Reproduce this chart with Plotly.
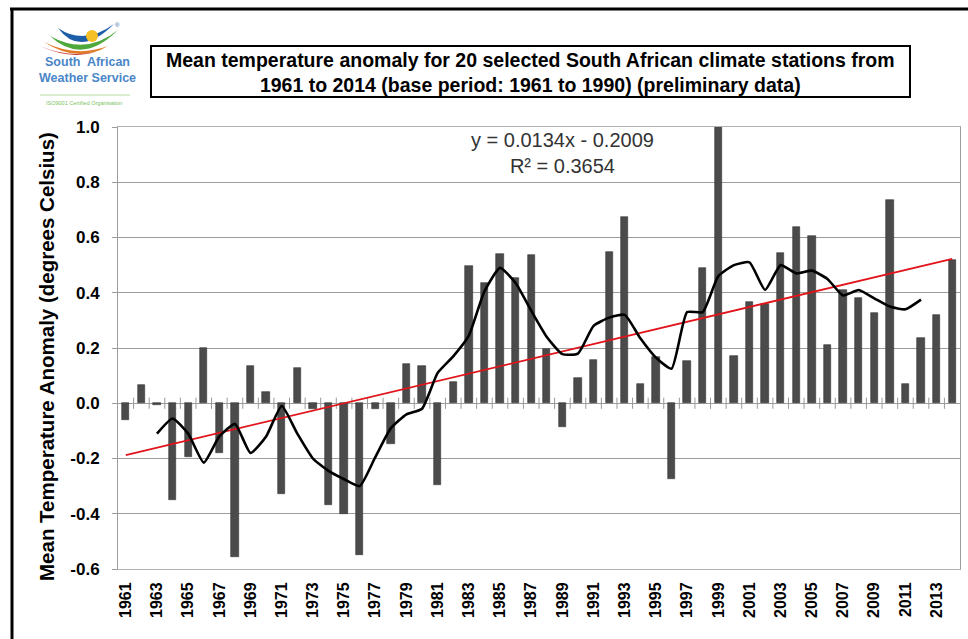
import plotly.graph_objects as go

# ---- data -------------------------------------------------------------
years = list(range(1961, 2015))
anomaly = [
    -0.06, 0.065, -0.005, -0.35, -0.195, 0.20, -0.18, -0.555, 0.136, 0.04,
    -0.33, 0.128, -0.02, -0.37, -0.40, -0.55, -0.02, -0.146, 0.142, 0.136,
    -0.296, 0.078, 0.497, 0.434, 0.539, 0.455, 0.535, 0.196, -0.086, 0.092,
    0.158, 0.548, 0.675, 0.068, 0.168, -0.275, 0.154, 0.491, 1.09, 0.172,
    0.367, 0.358, 0.545, 0.637, 0.605, 0.212, 0.409, 0.381, 0.325, 0.737,
    0.07, 0.235, 0.32, 0.52,
]
# five-year running mean (centred), 1963-2012
mean_years = list(range(1963, 2013))
running_mean = [
    -0.11, -0.055, -0.11, -0.215, -0.12, -0.075, -0.18, -0.12, -0.01, -0.11,
    -0.20, -0.245, -0.275, -0.30, -0.195, -0.09, -0.04, -0.02, 0.11, 0.17,
    0.245, 0.405, 0.49, 0.435, 0.335, 0.24, 0.178, 0.18, 0.28, 0.31,
    0.32, 0.235, 0.165, 0.125, 0.33, 0.33, 0.46, 0.50, 0.51, 0.41,
    0.50, 0.47, 0.48, 0.45, 0.39, 0.41, 0.38, 0.35, 0.34, 0.375,
]
# linear trend y = a*x + b, x = 1 for 1961
trend_slope = 0.0134
trend_intercept = -0.2009
trend_label = "y = 0.0134x - 0.2009<br>R² = 0.3654"

y_ticks = [1.0, 0.8, 0.6, 0.4, 0.2, 0.0, -0.2, -0.4, -0.6]
x_ticks = list(range(1961, 2014, 2))

title_lines = [
    "Mean temperature anomaly for 20 selected South African climate stations from",
    "1961 to 2014 (base period: 1961 to 1990) (preliminary data)",
]
y_title = "Mean Temperature Anomaly (degrees Celsius)"

# ---- geometry ---------------------------------------------------------
W, H = 968, 639
L, R, T, B = 118, 960, 127, 569


def px(x):
    return (x - L) / (R - L)


def py(y):
    return (B - y) / (B - T)


FONT = "Liberation Sans, Arial, sans-serif"

fig = go.Figure()

fig.add_trace(go.Bar(
    x=years, y=anomaly, width=0.47,
    marker=dict(color="#4b4b4b", line=dict(color="#333333", width=0.6)),
    showlegend=False, hoverinfo="x+y",
))

# small ticks along the zero line between years
bounds = [y + 0.5 for y in years[:-1]]
fig.add_trace(go.Scatter(
    x=bounds, y=[0] * len(bounds), mode="markers",
    marker=dict(symbol="line-ns", size=8, line=dict(color="#9a9a9a", width=1)),
    showlegend=False, hoverinfo="skip",
))

trend_x = [years[0], years[-1]]
trend_y = [trend_slope * (yr - years[0] + 1) + trend_intercept for yr in trend_x]
fig.add_trace(go.Scatter(
    x=trend_x, y=trend_y, mode="lines",
    line=dict(color="#e0141a", width=1.8), showlegend=False,
))

fig.add_trace(go.Scatter(
    x=mean_years, y=running_mean, mode="lines",
    line=dict(color="#000000", width=2.6, shape="spline", smoothing=0.5),
    showlegend=False,
))

fig.update_xaxes(
    range=[1960.5, 2014.5], tickmode="array", tickvals=x_ticks,
    ticktext=[f"<b>{v}</b>" for v in x_ticks], tickangle=-90,
    tickfont=dict(family=FONT, size=16, color="#000000"),
    ticklabelstandoff=6,
    showgrid=False, showline=True, linecolor="#b0b0b0", mirror=True,
    ticks="", zeroline=False,
)
fig.update_yaxes(
    range=[-0.6, 1.0], tickmode="array", tickvals=y_ticks,
    ticktext=[f"<b>{v:.1f}</b>" for v in y_ticks],
    tickfont=dict(family=FONT, size=17, color="#000000"),
    ticklabelstandoff=9,
    showgrid=True, gridcolor="#9c9c9c", gridwidth=1,
    zeroline=True, zerolinecolor="#9c9c9c", zerolinewidth=1,
    showline=True, linecolor="#9c9c9c", mirror=True,
    ticks="outside", ticklen=5, tickcolor="#9c9c9c",
)

shapes = []
annotations = []

# axis title
annotations.append(dict(
    xref="paper", yref="paper", x=px(46), y=py(357), showarrow=False,
    text=f"<b>{y_title}</b>", textangle=-90,
    font=dict(family=FONT, size=20.5, color="#000000"),
    xanchor="center", yanchor="middle",
))

# outer frame
shapes.append(dict(type="line", xref="paper", yref="paper",
                   x0=px(10), x1=px(968), y0=py(9), y1=py(9),
                   line=dict(color="#000000", width=3)))
shapes.append(dict(type="line", xref="paper", yref="paper",
                   x0=px(12), x1=px(12), y0=py(9), y1=py(639),
                   line=dict(color="#000000", width=3)))

# title box
shapes.append(dict(type="rect", xref="paper", yref="paper",
                   x0=px(151), x1=px(910), y0=py(46), y1=py(97),
                   line=dict(color="#000000", width=2), fillcolor="#ffffff"))
annotations.append(dict(
    xref="paper", yref="paper", x=px(530), y=py(72), showarrow=False,
    text=f"<b>{title_lines[0]}</b><br><b>{title_lines[1]}</b>",
    font=dict(family=FONT, size=19.5, color="#000000"), align="center",
    xanchor="center", yanchor="middle",
))

# trend equation
annotations.append(dict(
    x=1989.0, y=0.905, xref="x", yref="y", showarrow=False,
    text=trend_label, font=dict(family=FONT, size=20, color="#333333"),
    align="center", xanchor="center", yanchor="middle",
))

# logo mark
swooshes = [
    ("M 58 28 Q 80 58 114 24 Q 84 46 58 28 Z", "#1d5ea8"),
    ("M 50 36 Q 82 66 118 30 Q 86 56 50 36 Z", "#4ea83c"),
    ("M 44 42 Q 78 64 108 46 Q 76 58 44 42 Z", "#e07b28"),
    ("M 40 46 Q 70 60 96 52 Q 68 58 40 46 Z", "#c3322a"),
]


def path_to_paper(p):
    toks = p.split()
    out = []
    i = 0
    while i < len(toks):
        t = toks[i]
        if t.isalpha():
            out.append(t)
            i += 1
        else:
            xv = float(toks[i])
            yv = float(toks[i + 1])
            out.append(f"{px(xv):.5f},{py(yv):.5f}")
            i += 2
    return " ".join(out)


for p, c in swooshes:
    shapes.append(dict(type="path", xref="paper", yref="paper",
                       path=path_to_paper(p), fillcolor=c, line=dict(width=0)))
shapes.append(dict(type="circle", xref="paper", yref="paper",
                   x0=px(86), x1=px(98), y0=py(30), y1=py(42),
                   fillcolor="#f5c026", line=dict(width=0)))
annotations.append(dict(xref="paper", yref="paper", x=px(113), y=py(20),
                        text="®", showarrow=False,
                        font=dict(family=FONT, size=6, color="#1d5ea8")))
annotations.append(dict(xref="paper", yref="paper", x=px(87), y=py(70),
                        text="<b>South  African</b><br><b>Weather Service</b>",
                        showarrow=False, align="center",
                        font=dict(family=FONT, size=12.5, color="#4a86c8"),
                        xanchor="center", yanchor="middle"))
shapes.append(dict(type="line", xref="paper", yref="paper",
                   x0=px(40), x1=px(130), y0=py(95), y1=py(95),
                   line=dict(color="#b5dea0", width=1)))
annotations.append(dict(xref="paper", yref="paper", x=px(84), y=py(103),
                        text="ISO9001 Certified Organisation", showarrow=False,
                        font=dict(family=FONT, size=5.5, color="#7cbf5e"),
                        xanchor="center", yanchor="middle"))

fig.update_layout(
    width=W, height=H,
    margin=dict(l=L, r=W - R, t=T, b=H - B),
    paper_bgcolor="#ffffff", plot_bgcolor="#ffffff",
    bargap=0, shapes=shapes, annotations=annotations,
    font=dict(family=FONT),
)

fig.write_html("out.html")
